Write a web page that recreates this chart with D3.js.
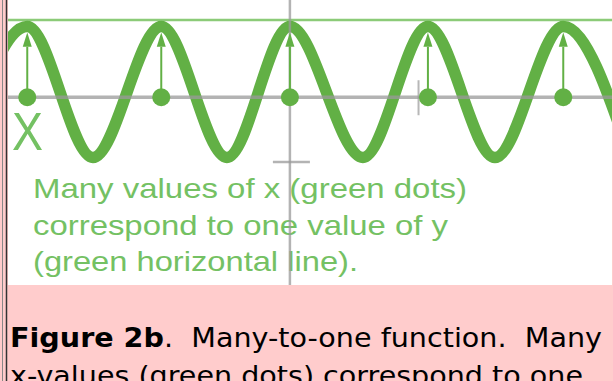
<!doctype html>
<html>
<head>
<meta charset="utf-8">
<script src="https://cdnjs.cloudflare.com/ajax/libs/d3/7.8.5/d3.min.js"></script>
<style>
  body { margin: 0; background: #ffcccc; }
  svg { display: block; }
</style>
</head>
<body>
<svg id="fig" width="613" height="381"></svg>
<script>
// crests and troughs of the green curve, x in periods (y-axis at 0)
var extremaX = [-2.46, -1.96, -1.47, -0.96, -0.47, 0, 0.545, 1.03, 1.53, 2.04, 2.54];
var extremaY = [-1, 1, -1, 1, -1, 1, -1, 1, -1, 1, -1];
// green dots on the x axis (one under each crest)
var dotsX = [-1.96, -0.96, 0, 1.03, 2.04];
var levelY = 1.1;        // green horizontal line
var axisY = -0.08;       // x axis as it sits in the scan
var xTicks = [0.96];
var yTicks = [-1.07];
var noteLines = ["Many values of x (green dots)", "correspond to one value of y", "(green horizontal line)."];
var captionBold = "Figure 2b";
var captionLines = [".\u00a0 Many-to-one function.\u00a0 Many", "x-values (green dots) correspond to one"];

var svg = d3.select("#fig");
var green = "#62b045", textGreen = "#74c163", gray = "#9a9a9a";

// white picture area
var box = {x: 8, y: 0, w: 604, h: 285};
svg.append("rect").attr("x", box.x).attr("y", box.y).attr("width", box.w).attr("height", box.h).attr("fill", "#fff");
svg.append("defs").append("clipPath").attr("id", "clip")
    .append("rect").attr("x", box.x).attr("y", box.y).attr("width", box.w).attr("height", box.h);

// left frame lines
svg.append("line").attr("x1", 2.5).attr("x2", 2.5).attr("y1", 0).attr("y2", 381).attr("stroke", "#888").attr("stroke-width", 1);
svg.append("line").attr("x1", 6.5).attr("x2", 6.5).attr("y1", 0).attr("y2", 381).attr("stroke", "#333").attr("stroke-width", 1.5);

var x = d3.scaleLinear().domain([-2.1, 2.4]).range([8.5, 611.5]);
var y = d3.scaleLinear().domain([-1, 1]).range([157.5, 26.5]);

var g = svg.append("g").attr("clip-path", "url(#clip)");

// note text
g.selectAll("text.note")
    .data(noteLines)
    .enter().append("text")
    .attr("class", "note")
    .attr("x", 33)
    .attr("y", function(d, i) { return 198 + i * 36.5; })
    .attr("textLength", function(d, i) { return [434, 415, 325][i]; })
    .attr("lengthAdjust", "spacingAndGlyphs")
    .attr("font-family", "Liberation Sans, Arial, sans-serif")
    .attr("font-size", 28)
    .attr("fill", textGreen)
    .text(function(d) { return d; });

// X label
g.append("text")
    .attr("x", 12).attr("y", 150)
    .attr("font-family", "Liberation Sans, Arial, sans-serif")
    .attr("font-size", 53)
    .attr("textLength", 31)
    .attr("lengthAdjust", "spacingAndGlyphs")
    .attr("fill", textGreen)
    .text("X");

// horizontal green line
g.append("line")
    .attr("x1", box.x).attr("x2", box.x + box.w)
    .attr("y1", y(levelY)).attr("y2", y(levelY))
    .attr("stroke", "#8ccb78").attr("stroke-width", 2.5);

// the curve
var pts = extremaX.map(function(d, i) { return [d, extremaY[i]]; });
var line = d3.line()
    .x(function(d) { return x(d[0]); })
    .y(function(d) { return y(d[1]); })
    .curve(d3.curveMonotoneX);
g.append("path")
    .attr("d", line(pts))
    .attr("fill", "none")
    .attr("stroke", green)
    .attr("stroke-width", 11.5);

// axes over the curve
g.append("line")
    .attr("x1", box.x).attr("x2", box.x + box.w)
    .attr("y1", y(axisY)).attr("y2", y(axisY))
    .attr("stroke", gray).attr("stroke-width", 3.5).attr("opacity", 0.75);
g.append("line")
    .attr("x1", x(0)).attr("x2", x(0))
    .attr("y1", box.y).attr("y2", box.y + box.h)
    .attr("stroke", gray).attr("stroke-width", 2.5).attr("opacity", 0.75);
g.selectAll("line.xtick").data(xTicks).enter().append("line")
    .attr("class", "xtick")
    .attr("x1", function(d) { return x(d); }).attr("x2", function(d) { return x(d); })
    .attr("y1", y(axisY) - 17).attr("y2", y(axisY) + 18)
    .attr("stroke", gray).attr("stroke-width", 2).attr("opacity", 0.7);
g.selectAll("line.ytick").data(yTicks).enter().append("line")
    .attr("class", "ytick")
    .attr("x1", x(0) - 17).attr("x2", x(0) + 20)
    .attr("y1", function(d) { return y(d); }).attr("y2", function(d) { return y(d); })
    .attr("stroke", gray).attr("stroke-width", 2.5).attr("opacity", 0.75);

// arrows from dots up to the crests
var arrowBase = 0.69, arrowTip = 0.91;
g.selectAll("line.arrow").data(dotsX).enter().append("line")
    .attr("class", "arrow")
    .attr("x1", function(d) { return x(d); }).attr("x2", function(d) { return x(d); })
    .attr("y1", y(axisY)).attr("y2", y(arrowBase))
    .attr("stroke", green).attr("stroke-width", 2);
g.selectAll("path.head").data(dotsX).enter().append("path")
    .attr("class", "head")
    .attr("d", function(d) {
        var cx = x(d);
        return "M" + (cx - 4.5) + "," + y(arrowBase) + "L" + cx + "," + y(arrowTip) + "L" + (cx + 4.5) + "," + y(arrowBase) + "Z";
    })
    .attr("fill", green);

// dots
g.selectAll("circle").data(dotsX).enter().append("circle")
    .attr("cx", function(d) { return x(d); })
    .attr("cy", y(axisY))
    .attr("r", 9)
    .attr("fill", green);

// caption
var cap = svg.selectAll("text.cap")
    .data(captionLines)
    .enter().append("text")
    .attr("class", "cap")
    .attr("x", 10)
    .attr("y", function(d, i) { return 347 + i * 38; })
    .attr("textLength", function(d, i) { return [592, 573][i]; })
    .attr("lengthAdjust", "spacingAndGlyphs")
    .attr("font-family", "DejaVu Sans, Verdana, sans-serif")
    .attr("font-size", 27)
    .attr("fill", "#000")
    .style("white-space", "pre");
cap.each(function(d, i) {
    var t = d3.select(this);
    if (i === 0) t.append("tspan").attr("font-weight", "bold").text(captionBold);
    t.append("tspan").text(d);
});
</script>
</body>
</html>
